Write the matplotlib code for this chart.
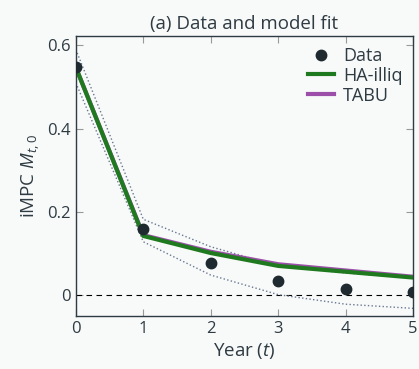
import numpy as np
import matplotlib.pyplot as plt

plt.rcParams['font.family'] = ['Open Sans', 'DejaVu Sans']
plt.rcParams['mathtext.fontset'] = 'custom'
plt.rcParams['mathtext.it'] = 'Open Sans:italic'
plt.rcParams['mathtext.rm'] = 'Open Sans'

# iMPC by year since the income shock
years = [0, 1, 2, 3, 4, 5]
data_impc = [0.547, 0.158, 0.077, 0.034, 0.014, 0.007]
upper_ci = [0.59, 0.182, 0.116, 0.070, 0.053, 0.041]
lower_ci = [0.51, 0.128, 0.048, 0.001, -0.022, -0.032]
ha_illiq = [0.547, 0.142, 0.101, 0.070, 0.056, 0.042]
tabu = [0.547, 0.144, 0.104, 0.074, 0.059, 0.044]

txt = '#2e3b42'
bg = '#f8f9f9'

fig = plt.figure(figsize=(4.19, 3.69), dpi=100, facecolor=bg)
ax = fig.add_axes([0.181, 0.144, 0.805, 0.758], facecolor=bg)

ax.axhline(0, color='black', lw=0.8, ls=(0, (5, 4)))
ax.plot(years, upper_ci, color='#6a7890', lw=1, ls=':')
ax.plot(years, lower_ci, color='#6a7890', lw=1, ls=':')
ax.plot(years, tabu, color='#9b4fa8', lw=3, label='TABU')
ax.plot(years, ha_illiq, color='#1f7a1f', lw=3, label='HA-illiq')
ax.plot(years, data_impc, 'o', color='#1e2a30', ms=7.5, label='Data', zorder=5)

h, l = ax.get_legend_handles_labels()
order = [2, 1, 0]
ax.legend([h[i] for i in order], [l[i] for i in order], loc='upper right',
          frameon=False, fontsize=13, labelcolor=txt, handlelength=1.4,
          borderaxespad=0.2, labelspacing=0.1, handletextpad=0.5)

ax.set_xlim(0, 5)
ax.set_ylim(-0.05, 0.622)
ax.set_xticks(years)
ax.set_yticks([0, 0.2, 0.4, 0.6])
ax.set_yticklabels(['0', '0.2', '0.4', '0.6'])
ax.tick_params(direction='in', top=True, right=True, colors='#999999',
               labelcolor=txt, labelsize=12, length=5)
for s in ax.spines.values():
    s.set_color(txt)
    s.set_linewidth(1)

ax.set_title('(a) Data and model fit', fontsize=13.5, color=txt, pad=5)
ax.set_xlabel('Year ($t$)', fontsize=13.5, color=txt, labelpad=3)
ax.set_ylabel('iMPC $M_{t,0}$', fontsize=13.5, color=txt)

fig.savefig('out.png', dpi=100, facecolor=bg)
